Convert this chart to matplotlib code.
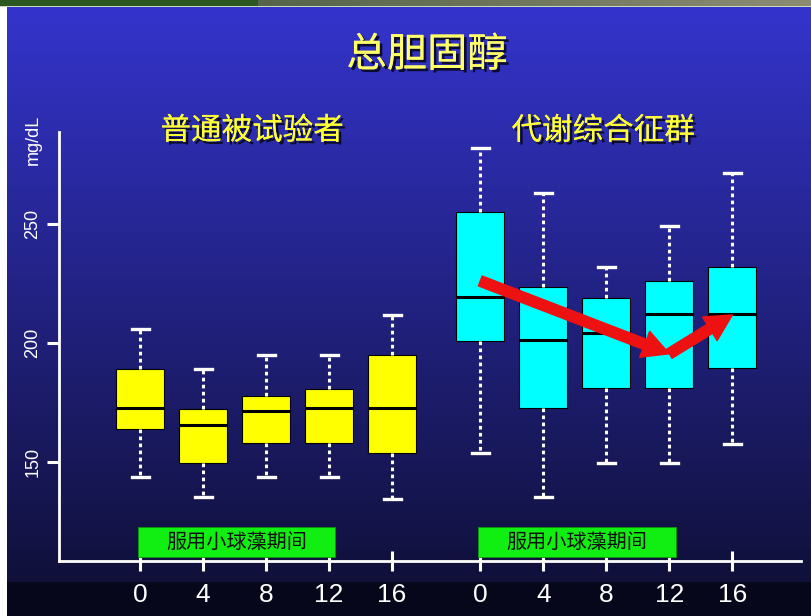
import numpy as np
import matplotlib
matplotlib.use("Agg")
import matplotlib.pyplot as plt
from matplotlib import patheffects as pe
from matplotlib.patches import Rectangle

plt.rcParams['font.family'] = ['Noto Sans CJK SC', 'DejaVu Sans']

TITLE = "总胆固醇"
GROUPS = ["普通被试验者", "代谢综合征群"]
PERIOD_LABEL = "服用小球藻期间"
WEEKS = ["0", "4", "8", "12", "16"]

# five-number summaries per visit, mg/dL
normal_lo = [144.0, 135.3, 144.0, 144.0, 134.6]
normal_q1 = [164.0, 149.6, 158.0, 158.0, 153.8]
normal_med = [172.7, 165.7, 171.6, 172.7, 172.7]
normal_q3 = [189.2, 172.3, 177.9, 180.8, 195.1]
normal_hi = [205.9, 189.2, 195.1, 195.1, 211.9]

mets_lo = [154.0, 135.5, 149.8, 149.8, 157.7]
mets_q1 = [201.1, 172.7, 181.3, 181.3, 189.7]
mets_med = [219.6, 201.4, 204.2, 212.2, 212.2]
mets_q3 = [255.3, 223.8, 218.9, 226.3, 232.2]
mets_hi = [281.9, 263.3, 232.2, 249.3, 271.7]

# trend arrows over the metabolic syndrome group: (visit index, mg/dL)
trend = [(0, 226.2), (3, 195.6), (4, 211.9)]


def box_stats(lo, q1, med, q3, hi):
    return [dict(whislo=a, q1=b, med=c, q3=d, whishi=e, fliers=[])
            for a, b, c, d, e in zip(lo, q1, med, q3, hi)]


W, H = 812, 616
fig = plt.figure(figsize=(W / 100, H / 100), dpi=100)

# slide background: banner on top, blue gradient, dark strip at the bottom
bg = np.ones((H, W, 3))
t = np.clip((np.arange(H) - 7) / (582 - 7), 0, 1)[:, None]
grad = np.array([52, 52, 205]) / 255 * (1 - t) + np.array([16, 16, 58]) / 255 * t
bg[7:, 7:, :] = grad[7:, None, :]
bg[582:, 7:, :] = np.array([7, 7, 28]) / 255
bg[:6, :258] = np.array([43, 88, 32]) / 255
ramp = np.linspace(0, 1, W - 258)[:, None]
bg[:6, 258:] = (np.array([85, 100, 75]) * (1 - ramp) + np.array([140, 140, 115]) * ramp) / 255
bg[6, :] = [0.78, 0.86, 0.72]
bax = fig.add_axes([0, 0, 1, 1], zorder=-1)
bax.imshow(bg, aspect='auto', interpolation='nearest')
bax.axis('off')

ax = fig.add_axes([59 / W, 55 / H, 742 / W, 429 / H])
ax.set_facecolor('none')

left = np.arange(5, dtype=float)
right = left + 5.4

common = dict(widths=0.76, patch_artist=True, showfliers=False, capwidths=0.27,
              medianprops=dict(color='black', linewidth=2.2),
              whiskerprops=dict(color='white', linewidth=2.2, linestyle=(0, (1.2, 1.1))),
              capprops=dict(color='white', linewidth=2.4))
ax.bxp(box_stats(normal_lo, normal_q1, normal_med, normal_q3, normal_hi), positions=left,
       boxprops=dict(facecolor='#FFFF00', edgecolor='black', linewidth=0.8), **common)
ax.bxp(box_stats(mets_lo, mets_q1, mets_med, mets_q3, mets_hi), positions=right,
       boxprops=dict(facecolor='#00FFFF', edgecolor='black', linewidth=0.8), **common)

for (i0, v0), (i1, v1) in zip(trend[:-1], trend[1:]):
    ax.annotate('', xy=(right[i1], v1), xytext=(right[i0], v0),
                arrowprops=dict(arrowstyle='simple,head_length=0.95,head_width=1.0,tail_width=0.38',
                                color='#EE1111', shrinkA=0, shrinkB=0, mutation_scale=20))

ax.set_xlim(-1.286, 10.49)
ax.set_ylim(108.5, 288.8)

for s in ['top', 'right']:
    ax.spines[s].set_visible(False)
for s in ['left', 'bottom']:
    ax.spines[s].set_color('white')
    ax.spines[s].set_linewidth(2.0)

ax.set_xticks(np.concatenate([left, right]))
ax.set_xticklabels(WEEKS * 2)
ax.tick_params(axis='x', direction='inout', length=14.4, width=2.2, color='white',
               labelcolor='white', labelsize=19, pad=9)
ax.set_yticks([150, 200, 250])
ax.set_yticklabels(['150', '200', '250'], rotation=90, va='center')
ax.tick_params(axis='y', direction='out', length=8.6, width=2.2, color='white',
               labelcolor='white', labelsize=13, pad=4)
for lbl in ax.get_xticklabels() + ax.get_yticklabels():
    lbl.set_fontfamily('Liberation Sans')

# "during chlorella intake" bars under each group
for pos in (left, right):
    x0, x1 = pos[0] - 0.03, pos[3] + 0.1
    ax.add_patch(Rectangle((x0, 110.2), x1 - x0, 12.4, facecolor='#11EE11',
                           edgecolor='#0A9A0A', linewidth=0.6, zorder=3, clip_on=False))
    ax.text((x0 + x1) / 2, 116.4, PERIOD_LABEL, ha='center', va='center',
            fontsize=14.5, color='#111111', zorder=4)

shadow = [pe.withSimplePatchShadow(offset=(2, -2), shadow_rgbFace='black', alpha=0.75), pe.Normal()]
fig.text(427 / W, 1 - 55 / H, TITLE, ha='center', va='center', fontsize=29,
         color='#FFFF66', path_effects=shadow)
for xc, name in zip([252, 603], GROUPS):
    fig.text(xc / W, 1 - 131 / H, name, ha='center', va='center', fontsize=22,
             color='#FFFF33', path_effects=shadow)

fig.text(33 / W, 1 - 140 / H, 'mg/dL', ha='center', va='center', rotation=90,
         fontsize=13, color='white', family='Liberation Sans')

fig.savefig('out.png', dpi=100)
